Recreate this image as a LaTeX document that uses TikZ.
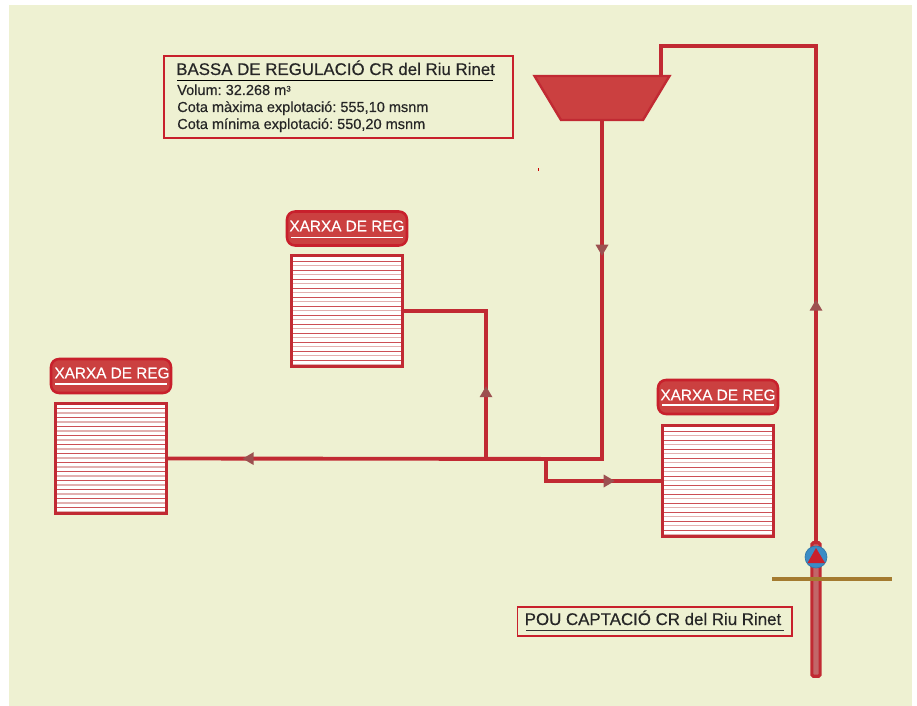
\documentclass[tikz,border=0pt]{standalone}
\usepackage{fontspec}
\setmainfont{Liberation Sans}
\newfontfamily\lblfont[FakeBold=0.4]{Liberation Sans}
\usetikzlibrary{decorations.markings}
\definecolor{bgc}{HTML}{EEF1D2}
\definecolor{pipec}{HTML}{C12A33}
\definecolor{fillc}{HTML}{CB4040}
\definecolor{boxc}{HTML}{C8202C}
\definecolor{headc}{HTML}{9C5050}
\definecolor{pale}{HTML}{E2B0B0}
\definecolor{darkl}{HTML}{CC4F55}
\definecolor{txt}{HTML}{262626}
\definecolor{earth}{HTML}{A47B30}
\definecolor{blueb}{HTML}{3A8CC6}
\definecolor{welli}{HTML}{C26668}
\tikzset{
  x=0.75pt,y=-0.75pt,
  pipe/.style={draw=pipec,line width=2.9pt,line join=miter},
  gridbox/.style={draw=pipec,line width=2.2pt,fill=white,minimum width=82.6pt,minimum height=82.6pt,inner sep=0pt,outer sep=0pt},
  tag/.style={draw=boxc,line width=1.9pt,fill=fillc,rounded corners=6pt,minimum width=90pt,minimum height=25.5pt,inner sep=0pt,outer sep=0pt},
  tagtxt/.style={text=white,font=\lblfont\fontsize{11.5pt}{14pt}\selectfont,inner sep=0pt,outer sep=0pt},
  frameb/.style={draw=boxc,inner sep=0pt,outer sep=0pt},
  title/.style={text=txt,anchor=base west,inner sep=0pt,font=\lblfont\fontsize{12.65pt}{14pt}\selectfont},
  sub/.style={text=txt,anchor=base west,inner sep=0pt,font=\lblfont\frenchspacing\fontsize{10.9pt}{12pt}\selectfont},
  headmark/.style={postaction={decorate,decoration={markings,mark=at position #1 with {\fill[headc] (5.5,0)--(-5.5,6.5)--(-5.5,-6.5)--cycle;}}}}
}
\newcommand{\hatchbox}[1]{%
  \foreach \k in {0,...,11}{
    \draw[pale,line width=1.1pt] ([xshift=1pt,yshift=-7.3pt-6.75pt*\k]#1.north west) -- ([xshift=-1pt,yshift=-7.3pt-6.75pt*\k]#1.north east);
    \draw[darkl,line width=0.7pt] ([xshift=1pt,yshift=-4pt-6.75pt*\k]#1.north west) -- ([xshift=-1pt,yshift=-4pt-6.75pt*\k]#1.north east);
  }
  \draw[pipec,line width=2.2pt] (#1.north west) rectangle (#1.south east);
}
\begin{document}
\begin{tikzpicture}
\useasboundingbox (0,0) rectangle (917,706);
\fill[bgc] (9,5) rectangle (912,706);
\fill[red!80!black] (537.7,168) rectangle (538.5,171);

% basin
\draw[draw=pipec,fill=fillc,line width=1.8pt,line join=miter] (534.5,76) -- (669.5,76) -- (643,120) -- (561,120) -- cycle;
\coordinate (basinS) at (602,120);

% irrigation areas
\node[gridbox] (gridA) at (347,311) {};
\node[gridbox] (gridB) at (111,458.5) {};
\node[gridbox] (gridC) at (718,481) {};
\hatchbox{gridA}\hatchbox{gridB}\hatchbox{gridC}

% well, ground, pump
\node[draw=pipec,fill=welli,line width=2.4pt,rounded corners=1pt,minimum width=6.2pt,minimum height=100pt,inner sep=0pt,outer sep=0pt] (well) at (816,609.5) {};
\draw[earth,line width=2.7pt] (772,579) -- (892,579);
\node[circle,fill=blueb,draw=blueb!85!black,line width=0.5pt,minimum size=16.5pt,inner sep=0pt,outer sep=0pt] (pump) at (816,557) {};
\fill[boxc] (816,548) -- (825,563) -- (807.5,563) -- cycle;

% junctions
\coordinate (down) at (602,459);
\coordinate (up) at (486,459);
\coordinate (bend) at (546,459);
\coordinate (upb) at (486,311);
\coordinate (bendb) at (546,481);
\coordinate (t1) at (661,76);
\coordinate (t2) at (661,46);
\coordinate (t3) at (816,46);

% pipes
\draw[pipe,headmark=0.168,headmark=0.894] (basinS) -- (down) -- (gridB.east);
\draw[pipe,headmark=0.29] (up) -- (upb) -- (gridA.east);
\draw[pipe,headmark=0.613] (bend) -- (bendb) -- (gridC.west);
\draw[pipe,headmark=0.3485] (well.north) -- (t3) -- (t2) -- (t1);

% tags
\node[tag] (tagA) at (347,228.5) {};
\node[tagtxt] (tagAt) at (347,226) {XARXA DE REG};
\draw[white,line width=0.9pt] (291,237.5) -- (403,237.5);
\node[tag] (tagB) at (111,376) {};
\node[tagtxt] (tagBt) at (112,373) {XARXA DE REG};
\draw[white,line width=0.9pt] (55,384) -- (167,384);
\node[tag] (tagC) at (718,397) {};
\node[tagtxt] (tagCt) at (718,395) {XARXA DE REG};
\draw[white,line width=0.9pt] (662,405) -- (774,405);

% info frames
\draw[frameb,line width=1.5pt] (164,56) rectangle (513,138);
\node[title] (t0) at (176,75) {BASSA DE REGULACIÓ CR del Riu Rinet};
\draw[black,line width=0.6pt] (177,80.5) -- (493,80.5);
\node[sub] (t1n) at (177,95) {Volum: 32.268 m\raisebox{0.45ex}{\fontsize{6pt}{7pt}\selectfont 3}};
\node[sub] (t2n) at (177,112) {Cota màxima explotació: 555,10 msnm};
\node[sub] (t3n) at (177,129) {Cota mínima explotació: 550,20 msnm};

\draw[frameb,line width=0.9pt] (517.5,607) rectangle (792,636);
\node[title] (p0) at (524.5,625) {POU CAPTACIÓ CR del Riu Rinet};
\draw[black!80,line width=0.6pt] (526,630.5) -- (784,630.5);
\end{tikzpicture}
\end{document}
